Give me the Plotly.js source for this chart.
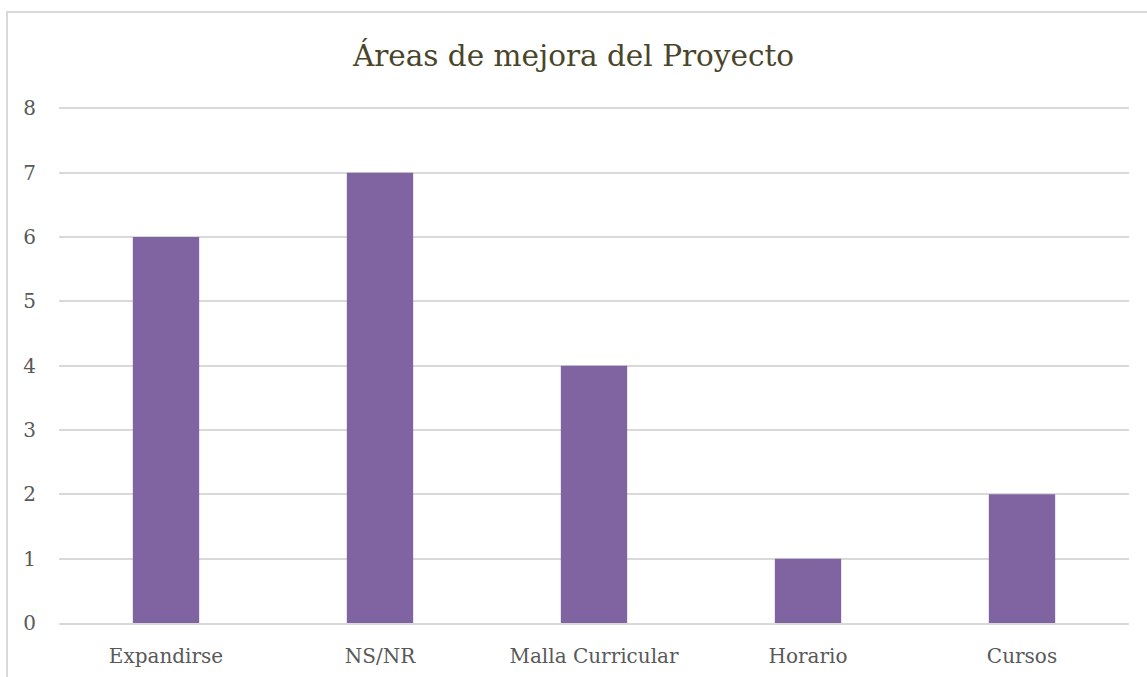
<!DOCTYPE html>
<html>
<head>
<meta charset="utf-8">
<script src="https://cdn.plot.ly/plotly-3.0.1.min.js"></script>
<style>
  html, body { margin: 0; padding: 0; background: #fff; overflow: hidden; }
  #wrap { position: relative; width: 1147px; height: 677px; overflow: hidden; }
  #chart { position: absolute; left: 0; top: 0; width: 1147px; height: 677px; }
  #frame { position: absolute; left: 6px; top: 11px; width: 1200px; height: 720px;
           border: 2px solid #d9d9d9; box-sizing: border-box; pointer-events: none; }
</style>
</head>
<body>
<div id="wrap">
  <div id="chart"></div>
  <div id="frame"></div>
</div>
<script>
const categories = ["Expandirse", "NS/NR", "Malla Curricular", "Horario", "Cursos"];
const values = [6, 7, 4, 1, 2];
const yTicks = [0, 1, 2, 3, 4, 5, 6, 7, 8];
const chartTitle = "Áreas de mejora del Proyecto";

const fontFamily = "'DejaVu Serif', 'Liberation Serif', serif";

Plotly.newPlot('chart', [{
  type: 'bar',
  x: categories,
  y: values,
  marker: { color: '#8064A2' },
  hoverinfo: 'x+y'
}], {
  width: 1147,
  height: 677,
  margin: { l: 59, r: 18, t: 107, b: 54 },
  paper_bgcolor: '#ffffff',
  plot_bgcolor: '#ffffff',
  bargap: 0.69,
  showlegend: false,
  title: {
    text: chartTitle,
    font: { family: fontFamily, size: 29.5, color: '#4a452a' },
    x: 0.5, xanchor: 'center',
    y: 1 - 56 / 677, yanchor: 'middle', yref: 'container'
  },
  xaxis: {
    type: 'category',
    showgrid: false,
    showline: true,
    linecolor: '#d9d9d9',
    linewidth: 2,
    ticks: '',
    ticklabelstandoff: 14,
    tickfont: { family: fontFamily, size: 20, color: '#595959' },
    fixedrange: true
  },
  yaxis: {
    range: [0, 8.02],
    tickvals: yTicks,
    ticktext: yTicks.map(String),
    showgrid: true,
    gridcolor: '#d9d9d9',
    gridwidth: 2,
    zeroline: false,
    showline: false,
    ticks: '',
    ticklabelstandoff: 22,
    tickfont: { family: fontFamily, size: 20, color: '#595959' },
    fixedrange: true
  }
}, { displayModeBar: false, staticPlot: true });
</script>
</body>
</html>
